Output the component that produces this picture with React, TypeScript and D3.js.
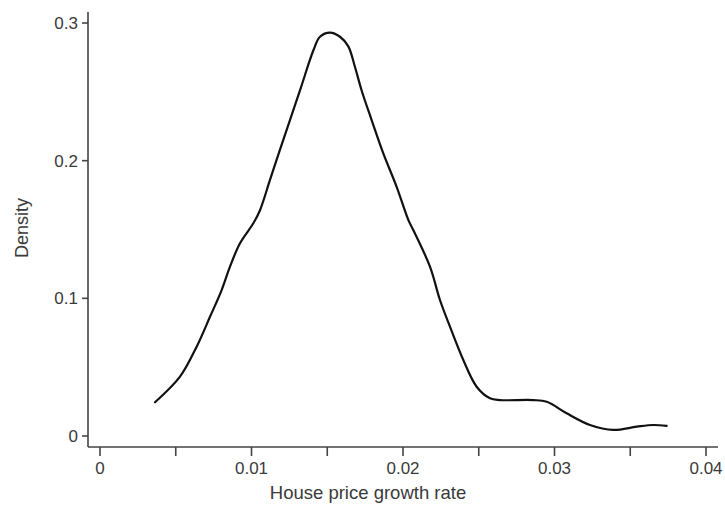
import React from "react";
import * as d3 from "d3";

const growthRate = [
  0.00363, 0.00528, 0.00638, 0.00726, 0.00803, 0.00858, 0.00924, 0.01012, 0.01056,
  0.01122, 0.01188, 0.0132, 0.01408, 0.01452, 0.01518, 0.01584, 0.01639, 0.01683,
  0.01727, 0.01793, 0.0187, 0.01958, 0.02035, 0.02068, 0.02178, 0.02244, 0.0231,
  0.02398, 0.02486, 0.02574, 0.0264, 0.02858, 0.02949, 0.0308, 0.03234, 0.03388,
  0.03543, 0.03652, 0.0374,
];
const density = [
  0.0245, 0.0431, 0.0649, 0.0866, 0.106, 0.123, 0.14, 0.1545, 0.164,
  0.186, 0.208, 0.251, 0.28, 0.29, 0.293, 0.29, 0.283, 0.268,
  0.251, 0.2295, 0.2053, 0.181, 0.157, 0.1496, 0.123, 0.0988, 0.0794,
  0.0552, 0.0358, 0.0274, 0.0261, 0.0261, 0.0249, 0.0165, 0.008, 0.0044,
  0.0068, 0.008, 0.0073,
];
const xTicks = [0, 0.005, 0.01, 0.015, 0.02, 0.025, 0.03, 0.035, 0.04];
const xTickLabels: Record<string, string> = { "0": "0", "0.01": "0.01", "0.02": "0.02", "0.03": "0.03", "0.04": "0.04" };
const yTicks = [0, 0.1, 0.2, 0.3];
const yTickLabels = ["0", "0.1", "0.2", "0.3"];
const xTitle = "House price growth rate";
const yTitle = "Density";

export default function App() {
  const W = 725, H = 505;
  const x = d3.scaleLinear().domain([0, 0.04]).range([100, 706]);
  const y = d3.scaleLinear().domain([0, 0.3]).range([436, 23]);
  const axisColor = "#444";
  const textColor = "#3a3a3a";
  const font = "'Liberation Sans', Arial, Helvetica, sans-serif";
  const pts = growthRate.map((g, i) => [g, density[i]] as [number, number]);
  const line = d3
    .line<[number, number]>()
    .x((d) => x(d[0]))
    .y((d) => y(d[1]))
    .curve(d3.curveCatmullRom.alpha(0.5));
  return (
    <svg width={W} height={H} style={{ position: "absolute", left: 0, top: 0, background: "#fff" }}>
      <line x1={88} x2={88} y1={12} y2={447} stroke={axisColor} strokeWidth={1.6} />
      {yTicks.map((t, i) => (
        <g key={"y" + i}>
          <line x1={82} x2={88} y1={y(t)} y2={y(t)} stroke={axisColor} strokeWidth={1.6} />
          <text x={78} y={y(t)} dy="0.35em" textAnchor="end" fontSize={17} fill={textColor} fontFamily={font}>
            {yTickLabels[i]}
          </text>
        </g>
      ))}
      <line x1={88} x2={718} y1={447} y2={447} stroke={axisColor} strokeWidth={1.6} />
      {xTicks.map((t, i) => {
        const key = String(t);
        return (
          <g key={"x" + i}>
            <line x1={x(t)} x2={x(t)} y1={447} y2={456} stroke={axisColor} strokeWidth={1.6} />
            {xTickLabels[key] !== undefined && (
              <text x={x(t)} y={474} textAnchor="middle" fontSize={17} fill={textColor} fontFamily={font}>
                {xTickLabels[key]}
              </text>
            )}
          </g>
        );
      })}
      <text x={368} y={499} textAnchor="middle" fontSize={18.5} fill={textColor} fontFamily={font}>
        {xTitle}
      </text>
      <text
        transform={`translate(28,228) rotate(-90)`}
        textAnchor="middle"
        fontSize={18}
        fill={textColor}
        fontFamily={font}
      >
        {yTitle}
      </text>
      <path d={line(pts) || ""} fill="none" stroke="#111" strokeWidth={2.2} strokeLinejoin="round" strokeLinecap="round" />
    </svg>
  );
}
